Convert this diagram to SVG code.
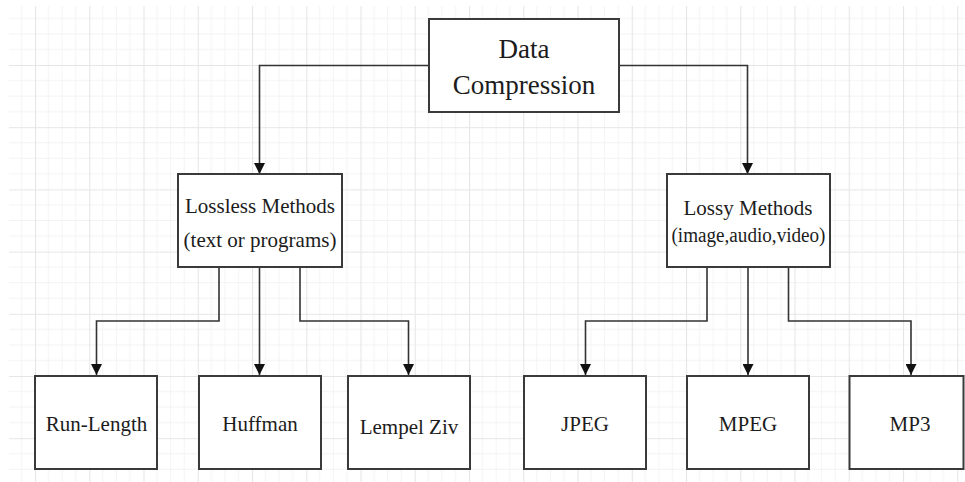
<svg xmlns="http://www.w3.org/2000/svg" width="965" height="482" viewBox="0 0 965 482">
  <defs>
    <!-- background grid: 4 minor cells per major cell -->
    <pattern id="grid" patternUnits="userSpaceOnUse" x="35" y="65" width="54.25" height="62.2">
      <g stroke="#f3f3f3" stroke-width="1">
        <line x1="13.56" y1="0" x2="13.56" y2="62.2"/>
        <line x1="27.12" y1="0" x2="27.12" y2="62.2"/>
        <line x1="40.69" y1="0" x2="40.69" y2="62.2"/>
        <line x1="0" y1="15.55" x2="54.25" y2="15.55"/>
        <line x1="0" y1="31.1" x2="54.25" y2="31.1"/>
        <line x1="0" y1="46.65" x2="54.25" y2="46.65"/>
      </g>
      <g stroke="#e6e6e6" stroke-width="1.2">
        <line x1="0.5" y1="0" x2="0.5" y2="62.2"/>
        <line x1="0" y1="0.5" x2="54.25" y2="0.5"/>
      </g>
    </pattern>
    <marker id="arrow" viewBox="0 0 10 10" refX="10" refY="5" markerWidth="11" markerHeight="11" markerUnits="userSpaceOnUse" orient="auto">
      <path d="M0,0 L10,5 L0,10 Z" fill="#111"/>
    </marker>
    <style>
      .box { fill: #ffffff; stroke: #3a3a3a; stroke-width: 2; }
      .lbl { fill: #1c1c1c; text-anchor: middle; }
      .conn { fill: none; stroke: #333333; stroke-width: 1.6; marker-end: url(#arrow); }
    </style>
  </defs>

  <rect x="0" y="0" width="965" height="482" fill="#ffffff"/>
  <rect x="9" y="6" width="956" height="476" fill="url(#grid)"/>

  <!-- connectors -->
  <g id="connectors">
    <path class="conn" d="M429,65.5 H259.5 V174"/>
    <path class="conn" d="M619,65.5 H747.5 V174"/>
    <path class="conn" d="M219,267 V321 H96.5 V375"/>
    <path class="conn" d="M259.5,267 V375"/>
    <path class="conn" d="M300,267 V321 H408.5 V375"/>
    <path class="conn" d="M707,267 V321 H585.5 V375"/>
    <path class="conn" d="M748,267 V375"/>
    <path class="conn" d="M788.5,267 V321 H911 V375"/>
  </g>

  <g font-family="Liberation Serif">
  <!-- root node -->
  <g id="data-compression">
    <rect class="box" x="429" y="19" width="190" height="93"/>
    <text class="lbl" x="524" y="58" font-size="27">Data</text>
    <text class="lbl" x="524" y="94" font-size="27">Compression</text>
  </g>

  <!-- second level -->
  <g id="lossless">
    <rect class="box" x="178" y="174" width="164" height="93"/>
    <text class="lbl" x="260" y="213" font-size="21">Lossless Methods</text>
    <text class="lbl" x="260" y="247" font-size="21">(text or programs)</text>
  </g>
  <g id="lossy">
    <rect class="box" x="667" y="174" width="163" height="93"/>
    <text class="lbl" x="748" y="215" font-size="21">Lossy Methods</text>
    <text class="lbl" x="748.5" y="242" font-size="20" textLength="154" lengthAdjust="spacingAndGlyphs">(image,audio,video)</text>
  </g>

  <!-- leaves -->
  <g id="run-length">
    <rect class="box" x="35" y="376" width="122" height="93"/>
    <text class="lbl" x="96.5" y="431" font-size="21">Run-Length</text>
  </g>
  <g id="huffman">
    <rect class="box" x="199" y="376" width="122" height="93"/>
    <text class="lbl" x="260" y="431" font-size="21">Huffman</text>
  </g>
  <g id="lempel-ziv">
    <rect class="box" x="348" y="376" width="122" height="93"/>
    <text class="lbl" x="409" y="434" font-size="21">Lempel Ziv</text>
  </g>
  <g id="jpeg">
    <rect class="box" x="524" y="376" width="122" height="93"/>
    <text class="lbl" x="585" y="431" font-size="21">JPEG</text>
  </g>
  <g id="mpeg">
    <rect class="box" x="687" y="376" width="122" height="93"/>
    <text class="lbl" x="748" y="431" font-size="21">MPEG</text>
  </g>
  <g id="mp3">
    <rect class="box" x="849.5" y="376" width="114" height="93"/>
    <text class="lbl" x="910" y="431" font-size="21">MP3</text>
  </g>
  </g>
</svg>
